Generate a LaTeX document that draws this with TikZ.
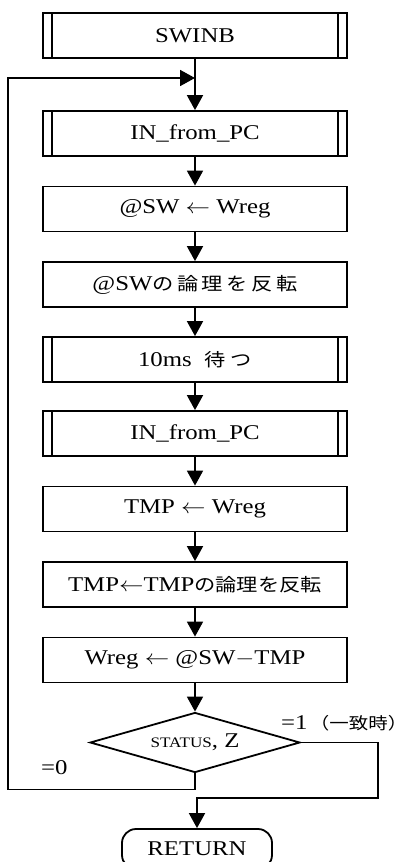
\documentclass[tikz,border=0pt]{standalone}
\usepackage{graphicx}
\usepackage{fontspec}
\setmainfont{Liberation Serif}
\newfontfamily\jpf{Noto Sans CJK JP}
\newcommand{\jp}{\jpf\fontsize{18}{20}\selectfont}
\newcommand{\sx}[1]{\scalebox{1.18}[1]{#1}}
\usetikzlibrary{arrows.meta,shapes.geometric}
\begin{document}
\begin{tikzpicture}[x=1pt,y=-1pt,
  lw/.style={line width=1.8pt},
  box/.style={draw, lw, minimum width=304pt, minimum height=45pt, inner sep=0pt,
    font=\fontsize{21}{23}\selectfont},
  sub/.style={box, path picture={
    \draw[lw] ([xshift=9pt]path picture bounding box.north west) -- ([xshift=9pt]path picture bounding box.south west);
    \draw[lw] ([xshift=-9pt]path picture bounding box.north east) -- ([xshift=-9pt]path picture bounding box.south east);}},
  dec/.style={draw, lw, shape=diamond, aspect=3.5, inner sep=0pt,
    minimum width=210pt, minimum height=60pt, font=\fontsize{21}{23}\selectfont},
  ret/.style={draw, lw, rounded corners=14pt, minimum width=150pt, minimum height=40pt,
    inner sep=0pt, font=\fontsize{21}{23}\selectfont},
  lbl/.style={inner sep=0pt, font=\fontsize{21}{23}\selectfont},
  arr/.style={lw, -{Triangle[width=16pt,length=15pt]}}]
\clip (0,0) rectangle (415,862);
\fill[white] (0,0) rectangle (415,862);
\node[sub] (s0) at (195,35.5) {\sx{SWINB}};
\node[sub] (s1) at (195,133.5) {\sx{IN\_from\_PC}};
\node[box] (s2) at (195,209) {\sx{@SW $\leftarrow$ Wreg}};
\node[box] (s3) at (195,284.5) {\sx{@SW{\jp の\kern3pt 論\kern3pt 理\kern3pt を\kern3pt 反\kern3pt 転}}};
\node[sub] (s4) at (195,359.5) {\sx{10ms\hspace{11pt}{\jp 待\kern4pt つ}}};
\node[sub] (s5) at (195,433.5) {\sx{IN\_from\_PC}};
\node[box] (s6) at (195,509) {\sx{TMP $\leftarrow$ Wreg}};
\node[box] (s7) at (195,584.5) {\sx{TMP$\leftarrow$TMP{\jp の論理を反転}}};
\node[box] (s8) at (195,660) {\sx{Wreg $\leftarrow$ @SW$-$TMP}};
\node[dec] (d) at (195,742.5) {\sx{{\fontsize{14.5}{16}\selectfont STATUS}, Z}};
\node[ret] (r) at (197,849) {\sx{RETURN}};
\node[lbl, anchor=west] (l1) at (281,723) {\scalebox{1.18}[1]{=1\kern2pt{\jpf\fontsize{16.5}{18}\selectfont （一致時）}}};
\node[lbl, anchor=west] (l0) at (41,768) {\sx{=0}};
\coordinate (lx) at (8,78);
\coordinate (j) at (195,78);
\coordinate (rb) at (378,798);
\draw[arr] (s0) -- (s1);
\draw[arr] (s1) -- (s2);
\draw[arr] (s2) -- (s3);
\draw[arr] (s3) -- (s4);
\draw[arr] (s4) -- (s5);
\draw[arr] (s5) -- (s6);
\draw[arr] (s6) -- (s7);
\draw[arr] (s7) -- (s8);
\draw[arr] (s8) -- (d);
\draw[arr] (d.south) -- ++(0,16) -| (lx) -- (j);
\draw[arr] (d.east) -| (rb) -| (r.north);
\end{tikzpicture}
\end{document}
